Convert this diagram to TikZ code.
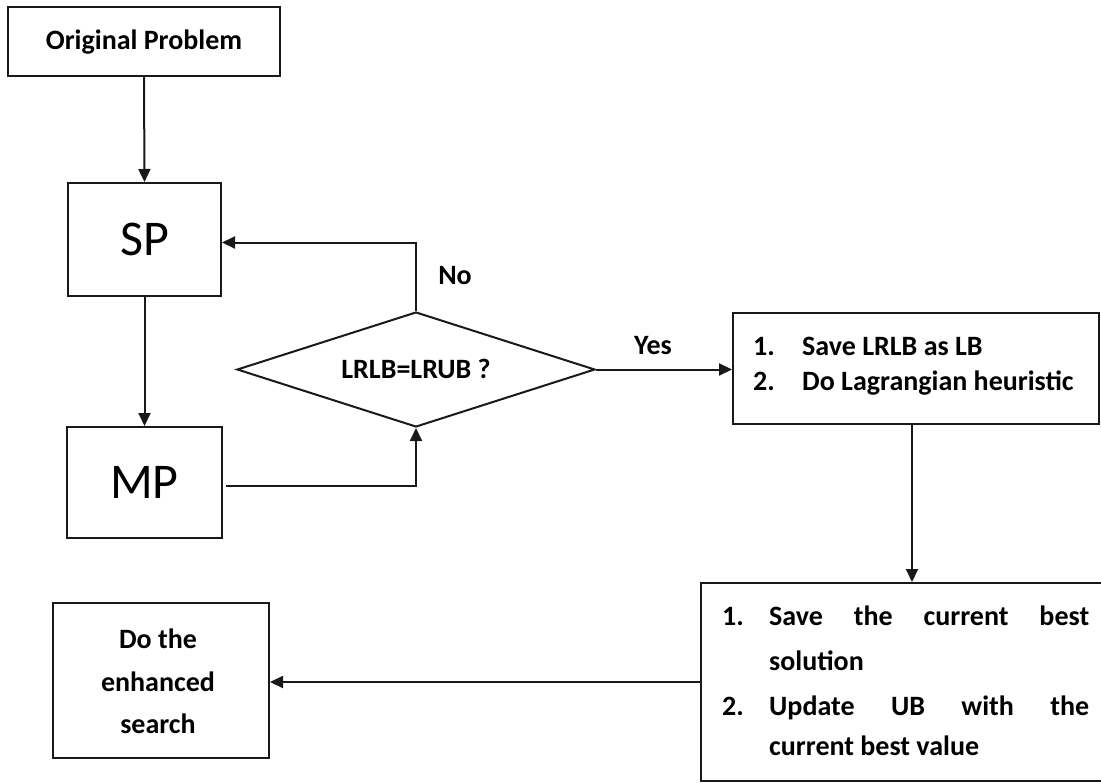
\documentclass[tikz,border=0pt]{standalone}
\usepackage{fontspec}
\setmainfont{Carlito}
\usetikzlibrary{arrows.meta,shapes.geometric}
\begin{document}
\begin{tikzpicture}[x=1bp,y=-1bp,
  box/.style={draw=black!90,line width=2bp,rectangle,inner sep=0pt,fill=white},
  lbl/.style={font=\fontsize{28bp}{32bp}\selectfont\bfseries,inner sep=0pt,anchor=base},
  big/.style={font=\fontsize{50bp}{54bp}\selectfont},
  conn/.style={draw=black!90,line width=2bp},
  arr/.style={conn,-{Triangle[length=13bp,width=12bp]}}]
\useasboundingbox[fill=white] (0,0) rectangle (1101,783);
% boxes
\node[box,minimum width=272bp,minimum height=69bp] (orig) at (144,41.5) {};
\node[lbl] (origt) at (144,50) {Original Problem};
\node[box,minimum width=153bp,minimum height=113bp,big] (sp) at (144.5,239.5) {SP};
\node[box,minimum width=155bp,minimum height=111bp,big] (mp) at (144.5,482.5) {MP};
\node[draw=black!90,line width=2bp,diamond,aspect=3.1,inner sep=0pt,minimum width=358bp,minimum height=115bp] (dia) at (416,369.5) {};
\node[lbl] (diat) at (416,378) {LRLB=LRUB ?};
\node[box,minimum width=366bp,minimum height=111bp] (yesb) at (916,368.5) {};
\node[lbl,anchor=base west] (y1n) at (753,355) {1.};
\node[lbl,anchor=base west] (y1t) at (802,355) {Save LRLB as LB};
\node[lbl,anchor=base west] (y2n) at (753,390) {2.};
\node[lbl,anchor=base west] (y2t) at (802,390) {Do Lagrangian heuristic};
\node[box,minimum width=404bp,minimum height=198bp] (saveb) at (903,682) {};
\node[lbl,anchor=base west] (s1n) at (722,625) {1.};
\node[lbl,anchor=base west] (s1t) at (769,625) {\makebox[320bp][s]{Save\hfill the\hfill current\hfill best}};
\node[lbl,anchor=base west] (s1c) at (769,670) {solution};
\node[lbl,anchor=base west] (s2n) at (722,715) {2.};
\node[lbl,anchor=base west] (s2t) at (769,715) {\makebox[320bp][s]{Update\hfill UB\hfill with\hfill the}};
\node[lbl,anchor=base west] (s2c) at (769,755) {current best value};
\node[box,minimum width=216bp,minimum height=155bp] (enh) at (161,680.5) {};
\node[lbl] (e1) at (158,648) {Do the};
\node[lbl] (e2) at (158,691) {enhanced};
\node[lbl] (e3) at (158,733) {search};
% labels
\node[lbl] (no) at (455,284) {No};
\node[lbl] (yes) at (653,354) {Yes};
% connectors
\draw[arr] (orig.south) -- (sp.north);
\draw[arr] (sp.south) -- (mp.north);
\draw[arr,shorten <=3bp] ([yshift=-3bp]mp.east) -| (dia.south);
\draw[arr] (dia.north) |- ([yshift=-3bp]sp.east);
\draw[arr] (dia.east) -- (dia.east -| yesb.west);
\draw[arr] (yesb.south -| 912,0) -- (saveb.north -| 912,0);
\draw[arr] (saveb.west) -- (saveb.west -| enh.east);
\end{tikzpicture}
\end{document}
